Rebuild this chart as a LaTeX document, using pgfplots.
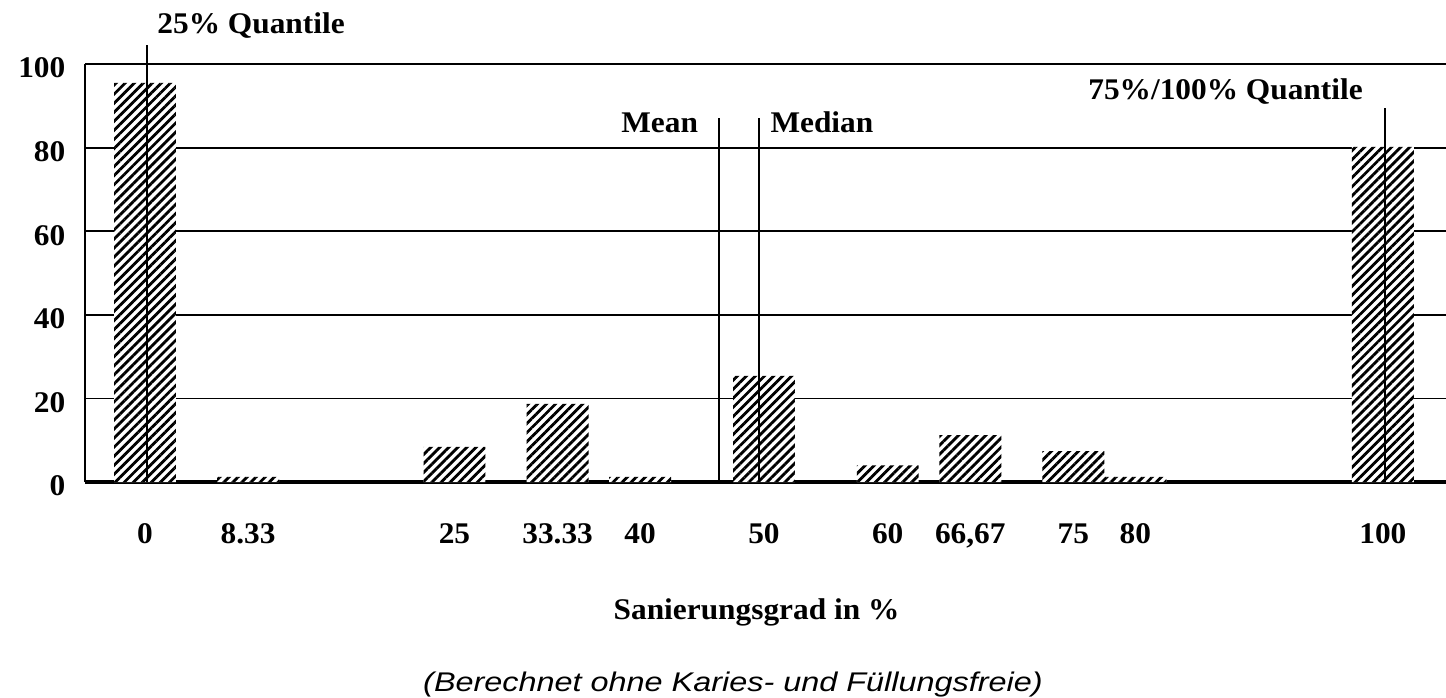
\documentclass[border=0pt]{standalone}
\usepackage{fontspec}
\setmainfont{Liberation Serif}[FakeStretch=1.045]
\newfontfamily\capfont{Liberation Sans}[FakeStretch=1.2]
\usepackage{pgfplots}
\pgfplotsset{compat=1.18}
\usetikzlibrary{patterns.meta}

\newcommand\lbl{\fontsize{15}{17}\selectfont\bfseries}

\begin{document}
\begin{tikzpicture}
\begin{axis}[name=ax, scale only axis, width=680.5pt, height=209pt,
  xmin=-4.85, xmax=105.1, ymin=0, ymax=100, clip=false,
  axis x line=bottom, axis y line=left, axis line style={-},
  x axis line style={line width=2pt}, y axis line style={line width=1pt},
  xtick={0,8.33,25,33.33,40,50,60,66.67,75,80,100},
  xticklabels={0,8.33,25,33.33,40,50,60,{66,67},75,80,100},
  ytick={0,20,40,60,80,100},
  major tick length=0pt,
  ymajorgrids, grid style={black, line width=0.9pt},
  tick label style={font=\lbl},
  /pgf/number format/assume math mode=true,
  xticklabel style={anchor=base, yshift=-30.5pt},
  yticklabel style={anchor=east, xshift=-6.3pt, yshift=-2pt},
]
% Haeufigkeiten je Sanierungsgrad
\addplot[ybar, bar width=5, draw=none, fill=white,
  postaction={pattern={Lines[angle=45,distance=3.2pt,line width=1.4pt]}}]
  coordinates {(0,95.5) (8.33,1.2) (25,8.4) (33.33,18.7) (40,1.2) (50,25.4)
               (60,4) (66.67,11.2) (75,7.4) (80,1.2) (100,80.2)};

% Lage- und Streuungsmasse
\draw[line width=1pt] (axis cs:0.15,0) -- (axis cs:0.15,104.5);
\draw[line width=1pt] (axis cs:46.4,0) -- (axis cs:46.4,87);
\draw[line width=1pt] (axis cs:49.6,0) -- (axis cs:49.6,87);
\draw[line width=1pt] (axis cs:100.2,0) -- (axis cs:100.2,89.5);

\node[anchor=base west, inner sep=0, font=\lbl] at (axis cs:0.97,107.4) {25\% Quantile};
\node[anchor=base east, inner sep=0, font=\lbl] at (axis cs:44.7,83.7) {Mean};
\node[anchor=base west, inner sep=0, font=\lbl] at (axis cs:50.5,83.7) {Median};
\node[anchor=base east, inner sep=0, font=\lbl] at (axis cs:98.4,91.4) {75\%/100\% Quantile};

\node[anchor=base, inner sep=0, font=\lbl] at (axis cs:49.4,-33) {Sanierungsgrad in \%};
\node[anchor=base, inner sep=0, font=\capfont\fontsize{13.5}{15}\selectfont\itshape]
  at (axis cs:47.5,-50.2) {(Berechnet ohne Karies- und Füllungsfreie)};
\end{axis}
\pgfresetboundingbox
\path[use as bounding box] ([shift={(-42.5pt,-107.5pt)}]ax.south west) rectangle ([shift={(0pt,32pt)}]ax.north east);
\end{tikzpicture}
\end{document}
